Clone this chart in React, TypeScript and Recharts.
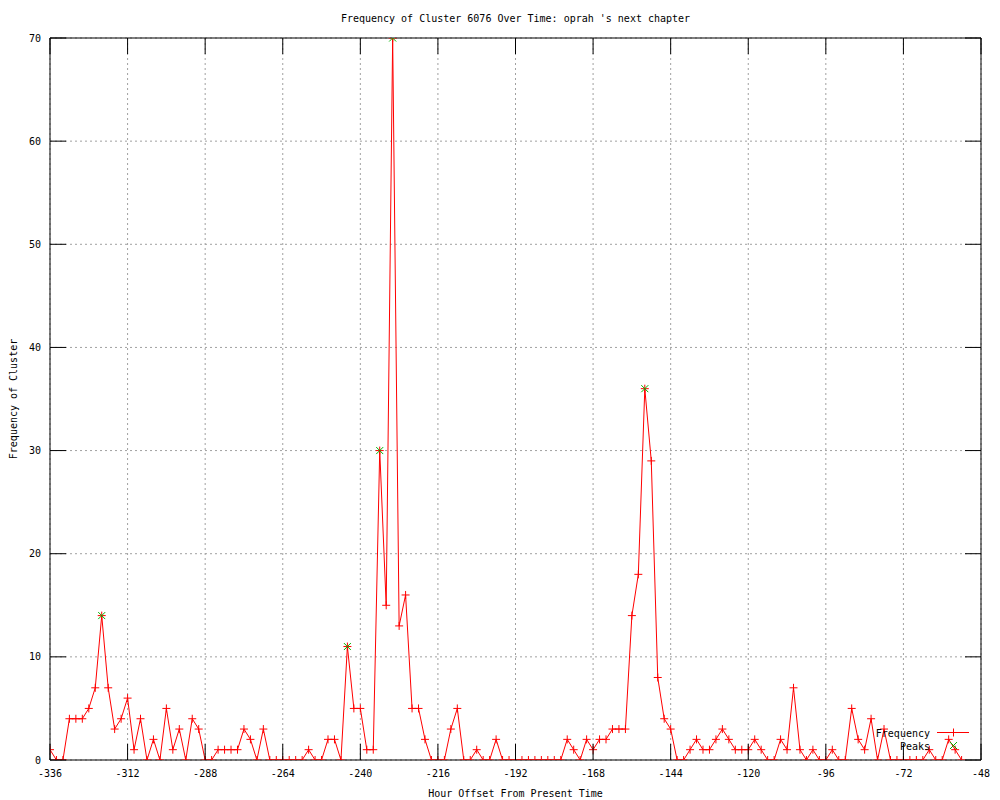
import { LineChart, Line, XAxis, YAxis, CartesianGrid, Legend } from 'recharts';

// hour offsets, one sample every 2 hours
const hours = [
  -336, -334, -332, -330, -328, -326, -324, -322, -320, -318,
  -316, -314, -312, -310, -308, -306, -304, -302, -300, -298,
  -296, -294, -292, -290, -288, -286, -284, -282, -280, -278,
  -276, -274, -272, -270, -268, -266, -264, -262, -260, -258,
  -256, -254, -252, -250, -248, -246, -244, -242, -240, -238,
  -236, -234, -232, -230, -228, -226, -224, -222, -220, -218,
  -216, -214, -212, -210, -208, -206, -204, -202, -200, -198,
  -196, -194, -192, -190, -188, -186, -184, -182, -180, -178,
  -176, -174, -172, -170, -168, -166, -164, -162, -160, -158,
  -156, -154, -152, -150, -148, -146, -144, -142, -140, -138,
  -136, -134, -132, -130, -128, -126, -124, -122, -120, -118,
  -116, -114, -112, -110, -108, -106, -104, -102, -100, -98,
  -96, -94, -92, -90, -88, -86, -84, -82, -80, -78,
  -76, -74, -72, -70, -68, -66, -64, -62, -60, -58,
  -56, -54,
];

const frequency = [
  1, 0, 0, 4, 4, 4, 5, 7, 14, 7,
  3, 4, 6, 1, 4, 0, 2, 0, 5, 1,
  3, 0, 4, 3, 0, 0, 1, 1, 1, 1,
  3, 2, 0, 3, 0, 0, 0, 0, 0, 0,
  1, 0, 0, 2, 2, 0, 11, 5, 5, 1,
  1, 30, 15, 70, 13, 16, 5, 5, 2, 0,
  0, 0, 3, 5, 0, 0, 1, 0, 0, 2,
  0, 0, 0, 0, 0, 0, 0, 0, 0, 0,
  2, 1, 0, 2, 1, 2, 2, 3, 3, 3,
  14, 18, 36, 29, 8, 4, 3, 0, 0, 1,
  2, 1, 1, 2, 3, 2, 1, 1, 1, 2,
  1, 0, 0, 2, 1, 7, 1, 0, 1, 0,
  0, 1, 0, 0, 5, 2, 1, 4, 0, 3,
  0, 0, 0, 0, 0, 0, 1, 0, 0, 2,
  1, 0,
];

const peakHours = [-320, -244, -234, -230, -152];

const xTicks = [-336, -312, -288, -264, -240, -216, -192, -168, -144, -120, -96, -72, -48];
const yTicks = [0, 10, 20, 30, 40, 50, 60, 70];

const TITLE = "Frequency of Cluster 6076 Over Time: oprah 's next chapter";
const X_LABEL = 'Hour Offset From Present Time';
const Y_LABEL = 'Frequency of Cluster';

const FONT = '"DejaVu Sans Mono", monospace';
const RED = '#ff0000';
const GREEN = '#00b400';
const TIC = 16;

// plot box in page pixels
const LEFT = 50;
const RIGHT = 981;
const TOP = 38;
const BOTTOM = 760;

const data = hours.map((h, i) => ({
  hour: h,
  freq: frequency[i],
  peak: peakHours.includes(h) ? frequency[i] : null,
}));

const txt = { fontFamily: FONT, fontSize: 10, fill: '#000' };

const BottomTick = ({ x, y, payload }: any) => (
  <g>
    <line x1={x} y1={y} x2={x} y2={y - TIC} stroke="#000" />
    <text x={x} y={y + 17} textAnchor="middle" {...txt}>{payload.value}</text>
  </g>
);
const TopTick = ({ x, y }: any) => <line x1={x} y1={y} x2={x} y2={y + TIC} stroke="#000" />;
const LeftTick = ({ x, y, payload }: any) => (
  <g>
    <line x1={x} y1={y} x2={x + TIC} y2={y} stroke="#000" />
    <text x={x - 9} y={y + 3.5} textAnchor="end" {...txt}>{payload.value}</text>
  </g>
);
const RightTick = ({ x, y }: any) => <line x1={x} y1={y} x2={x - TIC} y2={y} stroke="#000" />;

const plus = (cx: number, cy: number, s = 4) => `M${cx - s},${cy}H${cx + s}M${cx},${cy - s}V${cy + s}`;
const cross = (cx: number, cy: number, s = 3.5) =>
  `M${cx - s},${cy - s}L${cx + s},${cy + s}M${cx - s},${cy + s}L${cx + s},${cy - s}`;

const PlusDot = (props: any) => {
  const { cx, cy, value, index } = props;
  if (value == null || cx == null || cy == null) return <g key={`p${index}`} />;
  return <path key={`p${index}`} d={plus(cx, cy)} stroke={RED} strokeWidth={1} fill="none" />;
};

const CrossDot = (props: any) => {
  const { cx, cy, value, index } = props;
  if (value == null || cx == null || cy == null) return <g key={`c${index}`} />;
  return <path key={`c${index}`} d={cross(cx, cy)} stroke={GREEN} strokeWidth={1} fill="none" />;
};

const LegendBox = () => (
  <svg width={120} height={30} style={{ display: 'block' }}>
    <text x={70} y={12.5} textAnchor="end" {...txt}>Frequency</text>
    <line x1={77} y1={8.5} x2={109} y2={8.5} stroke={RED} />
    <path d={plus(93.5, 8.5)} stroke={RED} fill="none" />
    <text x={70} y={25.5} textAnchor="end" {...txt}>Peaks</text>
    <path d={cross(93.5, 21.5)} stroke={GREEN} fill="none" />
  </svg>
);

export default function App() {
  return (
    <div style={{ position: 'absolute', left: 0, top: 0, width: 1000, height: 800, background: '#fff' }}>
      <LineChart width={1000} height={800} data={data} margin={{ top: 0, right: 0, bottom: 0, left: 0 }}>
        <CartesianGrid stroke="#a0a0a0" strokeDasharray="2 3" />
        <XAxis
          type="number"
          dataKey="hour"
          domain={[-336, -48]}
          ticks={xTicks}
          interval={0}
          allowDataOverflow
          height={BOTTOM === 760 ? 40 : 40}
          tickSize={0}
          tickMargin={0}
          tickLine={false}
          axisLine={{ stroke: '#000' }}
          tick={BottomTick}
          label={() => (
            <text x={(LEFT + RIGHT) / 2} y={796.5} textAnchor="middle" {...txt}>{X_LABEL}</text>
          )}
        />
        <XAxis
          xAxisId="top"
          orientation="top"
          type="number"
          dataKey="hour"
          domain={[-336, -48]}
          ticks={xTicks}
          interval={0}
          allowDataOverflow
          height={TOP}
          tickSize={0}
          tickMargin={0}
          tickLine={false}
          axisLine={{ stroke: '#000' }}
          tick={TopTick}
          label={() => (
            <text x={(LEFT + RIGHT) / 2} y={21.5} textAnchor="middle" {...txt}>{TITLE}</text>
          )}
        />
        <YAxis
          type="number"
          domain={[0, 70]}
          ticks={yTicks}
          interval={0}
          allowDataOverflow
          width={LEFT}
          tickSize={0}
          tickMargin={0}
          tickLine={false}
          axisLine={{ stroke: '#000' }}
          tick={LeftTick}
          label={() => (
            <text
              x={16.5}
              y={(TOP + BOTTOM) / 2}
              textAnchor="middle"
              transform={`rotate(-90, 16.5, ${(TOP + BOTTOM) / 2})`}
              {...txt}
            >
              {Y_LABEL}
            </text>
          )}
        />
        <YAxis
          yAxisId="right"
          orientation="right"
          type="number"
          dataKey="freq"
          domain={[0, 70]}
          ticks={yTicks}
          interval={0}
          allowDataOverflow
          width={1000 - RIGHT}
          tickSize={0}
          tickMargin={0}
          tickLine={false}
          axisLine={{ stroke: '#000' }}
          tick={RightTick}
        />
        <Line
          type="linear"
          dataKey="freq"
          name="Frequency"
          stroke={RED}
          strokeWidth={1}
          dot={PlusDot}
          activeDot={false}
          isAnimationActive={false}
        />
        <Line
          type="linear"
          dataKey="peak"
          name="Peaks"
          stroke="none"
          dot={CrossDot}
          activeDot={false}
          isAnimationActive={false}
        />
        <Legend
          layout="vertical"
          align="center"
          verticalAlign="middle"
          wrapperStyle={{ left: 860, top: 724, width: 120, height: 30 }}
          content={() => <LegendBox />}
        />
      </LineChart>
    </div>
  );
}
